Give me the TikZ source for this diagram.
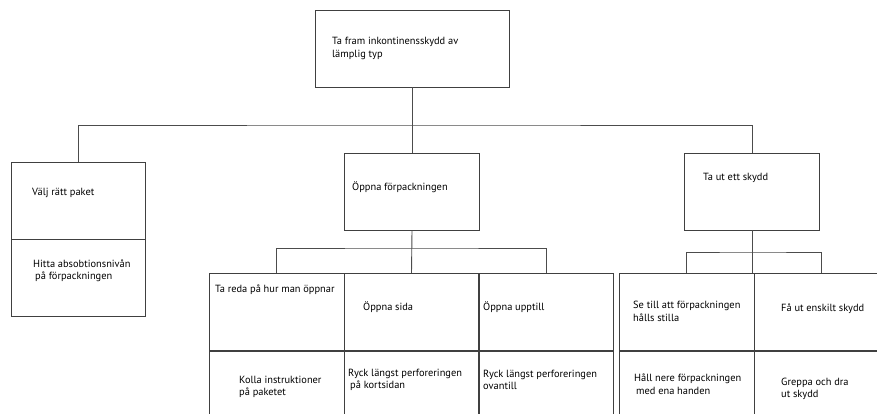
\documentclass[tikz,border=0pt]{standalone}
\usepackage{fontspec}
\setmainfont{PT Sans}
\begin{document}
\begin{tikzpicture}[x=1pt, y=-1pt,
    box/.style={draw=black!75, line width=0.9pt, minimum width=135pt, minimum height=77pt, inner sep=0pt},
    wire/.style={draw=black!70, line width=0.9pt},
    txt/.style={anchor=west, inner sep=0pt, align=left, font=\fontsize{10.4}{12.5}\selectfont}]
    \useasboundingbox (0,0) rectangle (877,413);
    \clip (0,0) rectangle (877,413);
    % top level
    \node[box, minimum width=194pt] (goal) at (412,48.5) {};
    \node[box, minimum width=134pt] (pick) at (78,200.5) {};
    \node[box, minimum width=134pt] (level) at (78,277.5) {};
    \node[box] (open) at (412,191.5) {};
    \node[box] (take) at (752,191.5) {};
    % open the package
    \node[box] (find) at (276.5,312) {};
    \node[box] (check) at (276.5,390) {};
    \node[box] (side) at (411.5,312) {};
    \node[box] (tearside) at (411.5,390) {};
    \node[box] (upper) at (546,312) {};
    \node[box] (tearupper) at (546,390) {};
    % take one out
    \node[box] (still) at (686.5,312) {};
    \node[box] (hold) at (686.5,390) {};
    \node[box] (single) at (821.5,312) {};
    \node[box] (grip) at (821.5,390) {};
    % connectors
    \coordinate (bus1) at (412,125);
    \coordinate (bus2) at (412,248);
    \coordinate (bus3) at (752,252);
    \draw[wire] (goal.south) -- (bus1);
    \draw[wire] (pick.north) |- (bus1) -| (take.north);
    \draw[wire] (bus1) -- (open.north);
    \draw[wire] (open.south) -- (side.north);
    \draw[wire] (find.north) |- (bus2) -| (upper.north);
    \draw[wire] (take.south) -- (bus3 |- still.north);
    \draw[wire] (still.north) |- (bus3) -| (single.north);
    % texts
    \node[txt] (goaltxt) at (332,48.5) {Ta fram inkontinensskydd av\\lämplig typ};
    \node[txt] (picktxt) at (32,193) {Välj rätt paket};
    \node[txt] (leveltxt) at (33,271) {Hitta absobtionsnivån\\\hspace{2pt}på förpackningen};
    \node[txt] (opentxt) at (352,187) {Öppna förpackningen};
    \node[txt] (taketxt) at (703,178) {Ta ut ett skydd};
    \node[txt] (findtxt) at (215,290) {Ta reda på hur man öppnar};
    \node[txt] (sidetxt) at (363,307) {Öppna sida};
    \node[txt] (uppertxt) at (483,307) {Öppna upptill};
    \node[txt] (checktxt) at (239,387) {Kolla instruktioner\\på paketet};
    \node[txt] (tearsidetxt) at (348,380) {Ryck längst perforeringen\\\hspace{2pt}på kortsidan};
    \node[txt] (tearuppertxt) at (483,380) {Ryck längst perforeringen\\ovantill};
    \node[txt] (stilltxt) at (633,311.5) {Se till att förpackningen\\hålls stilla};
    \node[txt] (singletxt) at (781,308.5) {Få ut enskilt skydd};
    \node[txt] (holdtxt) at (634,384) {Håll nere förpackningen\\\hspace{2pt}med ena handen};
    \node[txt] (griptxt) at (781,389) {Greppa och dra\\ut skydd};
\end{tikzpicture}
\end{document}
